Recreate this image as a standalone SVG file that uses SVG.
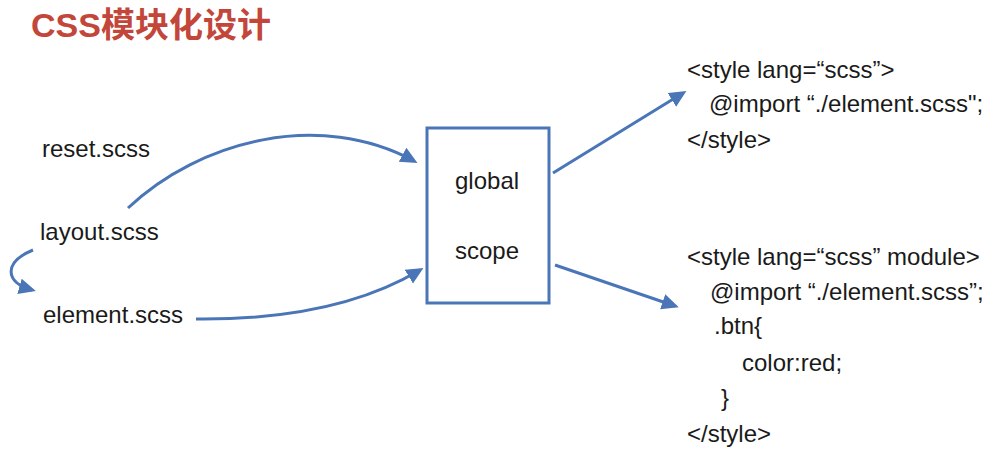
<svg xmlns="http://www.w3.org/2000/svg" width="1001" height="454" viewBox="0 0 1001 454">
  <defs>
    <style>
      .t { font-family: "Liberation Sans", Arial, Helvetica, sans-serif; font-size: 24px; fill: #1a1a1a; }
      .title { font-family: "Liberation Sans", "Noto Sans CJK SC", sans-serif; font-size: 34px; font-weight: bold; fill: #c3463b; }
      .conn { fill: none; stroke: #4a76b8; stroke-width: 3; marker-end: url(#ah); }
      .box { fill: #ffffff; stroke: #4a76b8; stroke-width: 3; }
    </style>
    <marker id="ah" markerUnits="userSpaceOnUse" markerWidth="20" markerHeight="18" refX="13" refY="8" orient="auto" viewBox="0 0 20 18">
      <path d="M0,0 L17,8 L0,16 z" fill="#4a76b8"/>
    </marker>
  </defs>
  <rect width="1001" height="454" fill="#ffffff"/>
  <text class="title" x="31" y="37">CSS模块化设计</text>

  <g id="reset"><text class="t" x="42" y="157">reset.scss</text></g>
  <g id="layout"><text class="t" x="40" y="240">layout.scss</text></g>
  <g id="element"><text class="t" x="43" y="323">element.scss</text></g>

  <g id="scope-box">
    <rect class="box" x="427" y="128" width="122" height="175"/>
    <text class="t" x="455" y="189">global</text>
    <text class="t" x="455" y="259">scope</text>
  </g>

  <g id="block1">
    <text class="t" x="687" y="78">&lt;style lang=“scss”&gt;</text>
    <text class="t" x="709" y="112">@import “./element.scss";</text>
    <text class="t" x="687" y="148">&lt;/style&gt;</text>
  </g>

  <g id="block2">
    <text class="t" x="687" y="265">&lt;style lang=“scss” module&gt;</text>
    <text class="t" x="710" y="300">@import “./element.scss”;</text>
    <text class="t" x="714" y="334">.btn{</text>
    <text class="t" x="742" y="371">color:red;</text>
    <text class="t" x="721" y="406">}</text>
    <text class="t" x="687" y="442">&lt;/style&gt;</text>
  </g>

  <g id="connectors">
    <path class="conn" d="M128,208 C200,140 320,110 414,161"/>
    <path class="conn" d="M196,319 C300,320 370,300 420,270"/>
    <path class="conn" d="M33,250 C4,262 4,282 32,290"/>
    <path class="conn" d="M553,173 L683,93"/>
    <path class="conn" d="M555,265 L675,306"/>
  </g>
</svg>
